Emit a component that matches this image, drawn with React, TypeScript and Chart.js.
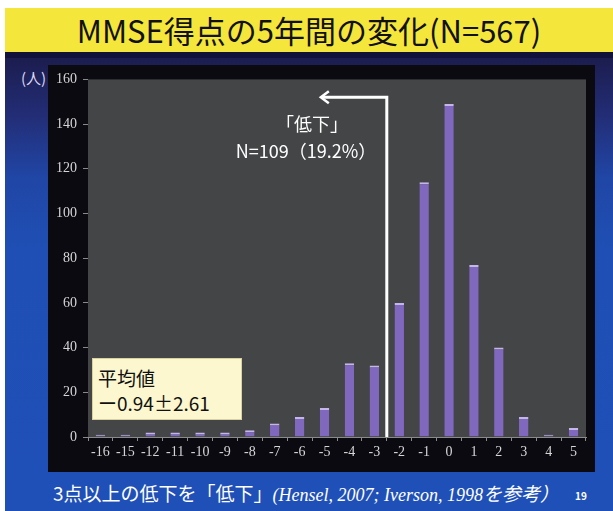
import React, { useEffect, useRef } from "react";
import { Chart, registerables } from "chart.js";

Chart.register(...registerables);

// ---- data ----
const categories = ["-16", "-15", "-12", "-11", "-10", "-9", "-8", "-7", "-6", "-5", "-4", "-3", "-2", "-1", "0", "1", "2", "3", "4", "5"];
const counts = [1, 1, 2, 2, 2, 2, 3, 6, 9, 13, 33, 32, 60, 114, 149, 77, 40, 9, 1, 4];
const yMin = 0;
const yMax = 160;
const yStep = 20;
// annotation (in data units): boundary between -3 and -2, arrow height, arrow tip position
const declineBoundary = 11.5;
const arrowLevel = 152;
const arrowTipAt = 8.85;

const titleText = "MMSE得点の5年間の変化(N=567)";
const yUnit = "(人)";
const declineLabel = "「低下」";
const declineCount = "N=109（19.2%）";
const meanLabel = "平均値";
const meanValue = "ー0.94±2.61";
const footJa = "3点以上の低下を「低下」";
const footRef = "(Hensel, 2007; Iverson, 1998";
const footEnd = "を参考）";
const pageNo = "19";

const JP = '"Noto Sans CJK JP", "Noto Sans", sans-serif';
const SERIF = '"Liberation Serif", "DejaVu Serif", serif';

const plotBgPlugin = {
  id: "plotBg",
  beforeDraw(chart: any) {
    const { ctx, chartArea: a } = chart;
    ctx.save();
    ctx.fillStyle = "#434547";
    ctx.fillRect(a.left, a.top, a.right - a.left, a.bottom - a.top);
    ctx.restore();
  },
};

const arrowPlugin = {
  id: "declineArrow",
  afterDatasetsDraw(chart: any) {
    const { ctx, chartArea: a, scales } = chart;
    const x = scales.x.getPixelForValue(declineBoundary);
    const yTop = scales.y.getPixelForValue(arrowLevel);
    const xTip = scales.x.getPixelForValue(arrowTipAt);
    ctx.save();
    ctx.strokeStyle = "#ffffff";
    ctx.lineWidth = 3;
    ctx.lineJoin = "miter";
    ctx.beginPath();
    ctx.moveTo(x, a.bottom);
    ctx.lineTo(x, yTop);
    ctx.lineTo(xTip + 1, yTop);
    ctx.stroke();
    ctx.lineWidth = 2.5;
    ctx.beginPath();
    ctx.moveTo(xTip + 8, yTop - 6);
    ctx.lineTo(xTip, yTop);
    ctx.lineTo(xTip + 8, yTop + 6);
    ctx.stroke();
    ctx.restore();
  },
};

export default function App() {
  const canvasRef = useRef<HTMLCanvasElement | null>(null);

  useEffect(() => {
    if (!canvasRef.current) return;
    const chart = new Chart(canvasRef.current, {
      type: "bar",
      data: {
        labels: categories,
        datasets: [
          {
            data: counts,
            backgroundColor: "#8068bf",
            borderColor: "#c4b6ea",
            borderWidth: { top: 2, left: 0, right: 0, bottom: 0 } as any,
            borderSkipped: false as any,
            barPercentage: 0.38,
            categoryPercentage: 1,
          },
        ],
      },
      options: {
        animation: false,
        responsive: false,
        maintainAspectRatio: false,
        layout: { padding: { left: 0, top: 14, right: 9, bottom: 0 } },
        plugins: { legend: { display: false }, tooltip: { enabled: false }, title: { display: false } },
        scales: {
          x: {
            offset: true,
            grid: { offset: true, drawOnChartArea: false, drawTicks: true, tickLength: 4, color: "#8a8a8a" },
            border: { display: true, color: "#8a8a8a" },
            ticks: {
              color: "#d6d6d6",
              font: { family: SERIF, size: 14 },
              padding: 3,
              maxRotation: 0,
              autoSkip: false,
            },
            afterFit(s: any) {
              s.height = 35;
            },
          },
          y: {
            min: yMin,
            max: yMax,
            grid: { drawOnChartArea: false, drawTicks: true, tickLength: 5, color: "#8a8a8a" },
            border: { display: false },
            ticks: {
              stepSize: yStep,
              color: "#d6d6d6",
              font: { family: SERIF, size: 14 },
              padding: 6,
            },
            afterFit(s: any) {
              s.width = 40;
            },
          },
        },
      },
      plugins: [plotBgPlugin, arrowPlugin],
    });
    return () => chart.destroy();
  }, []);

  const abs = (o: React.CSSProperties): React.CSSProperties => ({ position: "absolute", ...o });

  return (
    <div style={abs({ position: "fixed", left: 0, top: 0, width: 613, height: 511, overflow: "hidden", background: "#ffffff" })}>
      {/* slide background */}
      <div
        style={abs({
          left: 5,
          top: 8,
          width: 608,
          height: 503,
          background: "linear-gradient(180deg, #17173f 0px, #1c1d4f 50px, #232e78 110px, #2046a6 170px, #1f4fb4 240px, #1f50b8 503px)",
        })}
      />
      {/* title bar */}
      <div style={abs({ left: 5, top: 8, width: 608, height: 44, background: "#f5e63c" })} />
      <div style={abs({ left: 5, top: 52, width: 608, height: 6, background: "#12123a" })} />
      <div
        style={abs({
          left: 5,
          top: 8,
          width: 608,
          height: 44,
          lineHeight: "44px",
          textAlign: "center",
          fontFamily: JP,
          fontSize: 31,
          color: "#111",
          whiteSpace: "nowrap",
        })}
      >
        {titleText}
      </div>
      {/* y unit */}
      <div style={abs({ left: 21, top: 68, lineHeight: "20px", fontFamily: JP, fontSize: 15, color: "#ddd6f2", whiteSpace: "nowrap" })}>{yUnit}</div>
      {/* chart panel */}
      <canvas
        ref={canvasRef}
        width={547}
        height={407}
        style={abs({ left: 48, top: 65, width: 547, height: 407, background: "#0a0a10" })}
      />
      {/* decline annotation text */}
      <div style={abs({ left: 252, top: 111, width: 120, textAlign: "center", lineHeight: "24px", fontFamily: JP, fontSize: 18, color: "#fff", whiteSpace: "nowrap" })}>
        {declineLabel}
      </div>
      <div style={abs({ left: 226, top: 138, width: 160, textAlign: "center", lineHeight: "24px", fontFamily: JP, fontSize: 18, color: "#fff", whiteSpace: "nowrap" })}>
        {declineCount}
      </div>
      {/* mean box */}
      <div style={abs({ left: 92, top: 358, width: 148, height: 60, background: "#fcf7cf", border: "1px solid #d9d2a0" })} />
      <div style={abs({ left: 98, top: 366, lineHeight: "24px", fontFamily: JP, fontSize: 19, color: "#111", whiteSpace: "nowrap" })}>{meanLabel}</div>
      <div style={abs({ left: 98, top: 391, lineHeight: "24px", fontFamily: JP, fontSize: 19, color: "#111", whiteSpace: "nowrap" })}>{meanValue}</div>
      {/* footer */}
      <div style={abs({ left: 53, top: 482, lineHeight: "22px", color: "#fff", whiteSpace: "nowrap" })}>
        <span style={{ fontFamily: JP, fontSize: 19 }}>{footJa}</span>
        <span style={{ fontFamily: SERIF, fontStyle: "italic", fontSize: 18 }}>{footRef}</span>
        <span style={{ fontFamily: JP, fontStyle: "italic", fontSize: 19 }}>{footEnd}</span>
      </div>
      <div style={abs({ left: 575, top: 489, lineHeight: "14px", fontFamily: JP, fontSize: 10, fontWeight: 700, color: "#fff" })}>{pageNo}</div>
    </div>
  );
}
